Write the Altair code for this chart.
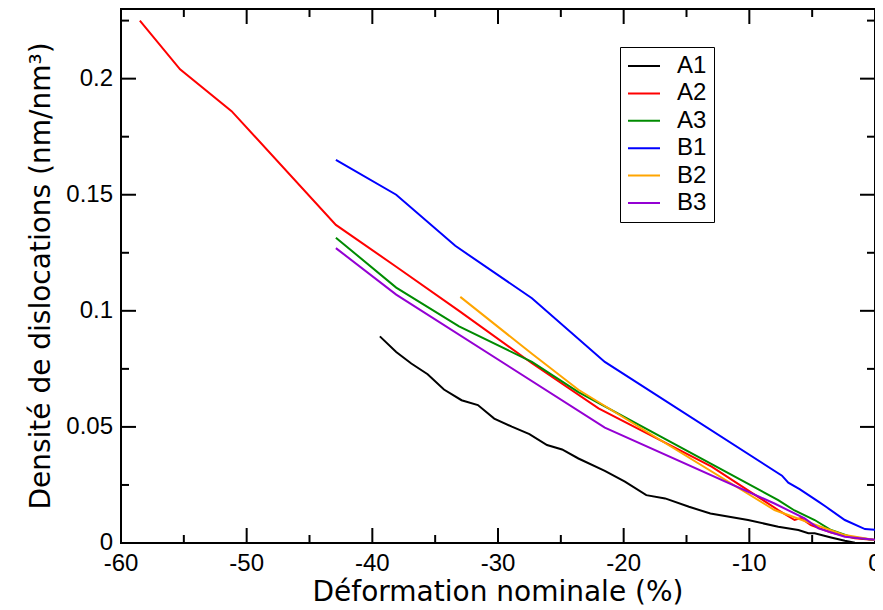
import altair as alt
import pandas as pd

# ---- data ----
series_names = ["A1", "A2", "A3", "B1", "B2", "B3"]
series_colors = ["#000000", "#ff0000", "#008b00", "#0000ff", "#ffa500", "#9400d3"]

a1_x = [-39.4, -38.1, -36.9, -35.6, -34.3, -32.9, -31.6, -30.3, -28.9, -27.5, -26.1, -24.9,
        -23.6, -21.5, -19.9, -18.2, -16.7, -14.8, -13.1, -10.1, -7.7, -6.1, -5.3, -4.8,
        -3.5, -2.4, -1.6, 0.0]
a1_y = [0.089, 0.0823, 0.0773, 0.0727, 0.0661, 0.0615, 0.0594, 0.0536, 0.0501, 0.0469, 0.0422, 0.0403,
        0.0364, 0.0311, 0.0264, 0.0206, 0.0192, 0.0156, 0.0127, 0.0099, 0.007, 0.0056, 0.0042, 0.0042,
        0.0024, 0.001, 0.0001, 0.0]

a2_x = [-58.5, -55.3, -51.2, -42.9, -38.1, -33.1, -27.3, -22.0, -13.0, -7.7, -6.4, -5.9, -5.1, -3.5, -1.6, 0.0]
a2_y = [0.225, 0.204, 0.186, 0.137, 0.119, 0.100, 0.0774, 0.058, 0.0329, 0.0142, 0.0099, 0.0107, 0.0077, 0.0045, 0.002, 0.0013]

a3_x = [-42.9, -38.1, -33.1, -27.3, -23.6, -7.7, -6.4, -4.8, -3.5, -1.9, 0.0]
a3_y = [0.1315, 0.110, 0.0933, 0.078, 0.065, 0.0185, 0.014, 0.0099, 0.0056, 0.0026, 0.0013]

b1_x = [-42.9, -38.1, -33.4, -27.3, -21.5, -7.4, -6.9, -6.0, -4.5, -3.9, -2.4, -0.8, 0.0]
b1_y = [0.165, 0.150, 0.128, 0.1054, 0.078, 0.029, 0.026, 0.0232, 0.0178, 0.0156, 0.0099, 0.006, 0.0057]

b2_x = [-33.0, -27.3, -23.6, -8.0, -5.1, -2.4, 0.0]
b2_y = [0.106, 0.0815, 0.066, 0.0142, 0.0085, 0.0034, 0.0013]

b3_x = [-42.9, -38.1, -21.5, -8.0, -5.6, -4.5, -2.4, 0.0]
b3_y = [0.127, 0.107, 0.0497, 0.017, 0.0106, 0.0063, 0.0027, 0.0014]

x_major = [-60, -50, -40, -30, -20, -10, 0]
x_minor = [-55, -45, -35, -25, -15, -5]
y_major = [0, 0.05, 0.1, 0.15, 0.2]
y_minor = [0.025, 0.075, 0.125, 0.175, 0.225]

x_title = "Déformation nominale (%)"
y_title = "Densité de dislocations (nm/nm³)"

rows = []
for name, xs, ys in zip(series_names, [a1_x, a2_x, a3_x, b1_x, b2_x, b3_x],
                        [a1_y, a2_y, a3_y, b1_y, b2_y, b3_y]):
    for x, y in zip(xs, ys):
        rows.append({"series": name, "x": x, "y": y})
df = pd.DataFrame(rows)

W, H = 754, 534
FONT = "Liberation Sans"
TFONT = "DejaVu Sans"
MAJ, MIN = 15, 8


def xscale():
    return alt.Scale(domain=[-60, 0], nice=False, zero=False)


def yscale():
    return alt.Scale(domain=[0, 0.23], nice=False, zero=False)


def xticks(vals, size, top):
    y0 = 0 if top else H
    y1 = size if top else H - size
    return alt.Chart(pd.DataFrame({"v": vals})).mark_rule(
        color="black", strokeWidth=2).encode(
        x=alt.X("v:Q", scale=xscale(), axis=None),
        y=alt.value(y0), y2=alt.value(y1))


def yticks(vals, size, right):
    x0 = W if right else 0
    x1 = W - size if right else size
    return alt.Chart(pd.DataFrame({"v": vals})).mark_rule(
        color="black", strokeWidth=2).encode(
        y=alt.Y("v:Q", scale=yscale(), axis=None),
        x=alt.value(x0), x2=alt.value(x1))


# tick labels, placed through the scales
x_labels = alt.Chart(pd.DataFrame({"v": x_major})).transform_calculate(
    lbl="datum.v < 0 ? '-' + abs(datum.v) : '' + datum.v"
).mark_text(font=FONT, fontSize=24, color="black", align="center", baseline="top").encode(
    x=alt.X("v:Q", scale=xscale(), axis=None),
    y=alt.value(H + 9),
    text="lbl:N")

y_labels = alt.Chart(pd.DataFrame({"v": y_major})).mark_text(
    font=FONT, fontSize=24, color="black", align="right", baseline="middle").encode(
    y=alt.Y("v:Q", scale=yscale(), axis=None),
    x=alt.value(-8),
    text=alt.Text("v:Q", format="~g"))

# axis titles
x_title_mark = alt.Chart(pd.DataFrame({"t": [x_title]})).mark_text(
    font=TFONT, fontSize=28, color="black", align="center", baseline="top").encode(
    x=alt.value(W / 2), y=alt.value(H + 36), text="t:N")

y_title_mark = alt.Chart(pd.DataFrame({"t": [y_title]})).mark_text(
    font=TFONT, fontSize=28, color="black", align="center", baseline="alphabetic",
    angle=270).encode(
    x=alt.value(-71), y=alt.value(H / 2), text="t:N")

main = alt.Chart(df).mark_line(strokeWidth=2).encode(
    x=alt.X("x:Q", scale=xscale(), axis=None),
    y=alt.Y("y:Q", scale=yscale(), axis=None),
    color=alt.Color("series:N", scale=alt.Scale(domain=series_names, range=series_colors),
                    legend=alt.Legend(
                        title=None, orient="none", legendX=499, legendY=38,
                        symbolType="stroke", symbolSize=1024, symbolStrokeWidth=2,
                        clipHeight=24,
                        labelFont=FONT, labelFontSize=24, labelColor="black", labelOffset=16,
                        rowPadding=3.4, padding=7, strokeColor="black", fillColor="white")),
)

layers = [
    xticks(x_major, MAJ, False), xticks(x_major, MAJ, True),
    xticks(x_minor, MIN, False), xticks(x_minor, MIN, True),
    yticks(y_major, MAJ, False), yticks(y_major, MAJ, True),
    yticks(y_minor, MIN, False), yticks(y_minor, MIN, True),
    x_labels, y_labels, x_title_mark, y_title_mark,
    main,
]

chart = alt.layer(*layers).properties(
    width=W, height=H,
    autosize=alt.AutoSizeParams(type="none"),
    padding={"left": 113, "top": 1, "right": 0, "bottom": 64},
).configure_view(stroke="black", strokeWidth=2)

chart.save("out.html", embed_options={"renderer": "svg", "actions": False})
